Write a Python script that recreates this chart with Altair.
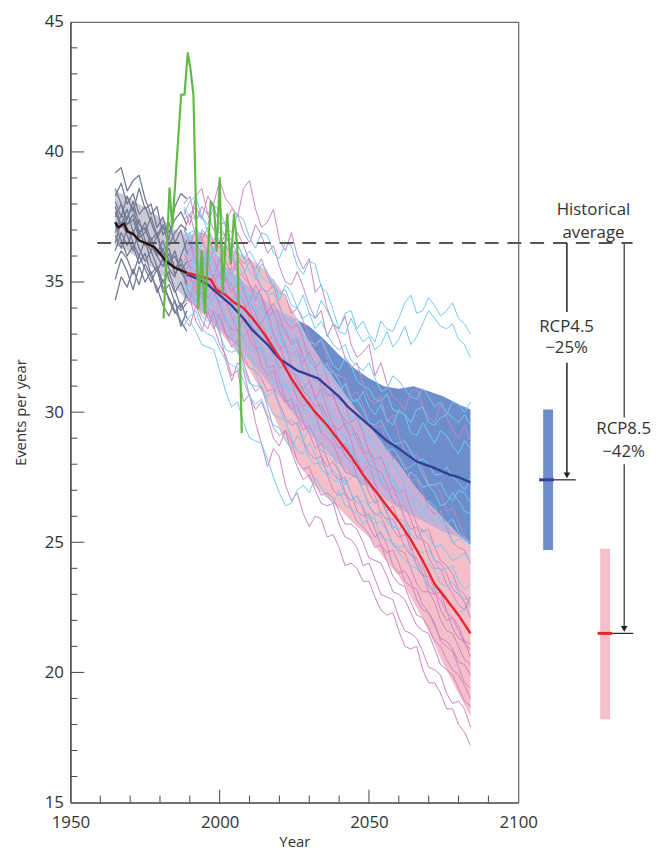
import altair as alt
import pandas as pd

# ---------------- year grids ----------------
hist_years = list(range(1965, 1990, 2))          # grey historical runs
proj_years = list(range(1988, 2085, 2))          # projection runs

# ---------------- historical (grey) ensemble ----------------
grey_01 = [39.2, 39.4, 38.5, 38.9, 39.1, 38.2, 37.6, 37.9, 36.8, 37.3, 36.5, 37.0, 36.1]
grey_02 = [38.1, 37.5, 38.3, 37.7, 38.6, 37.8, 38.0, 37.1, 37.5, 36.6, 37.9, 38.4, 38.2]
grey_03 = [37.5, 38.0, 37.2, 37.6, 36.8, 37.3, 36.6, 36.9, 36.1, 35.7, 36.2, 35.4, 35.8]
grey_04 = [36.8, 36.3, 37.1, 36.5, 36.0, 36.6, 35.8, 35.4, 35.9, 35.1, 34.6, 35.0, 34.4]
grey_05 = [35.1, 35.9, 35.4, 34.7, 35.6, 35.0, 35.4, 34.6, 35.1, 34.3, 33.8, 34.2, 33.6]
grey_06 = [34.3, 35.2, 34.8, 35.5, 34.9, 35.7, 35.2, 34.8, 34.1, 33.7, 34.3, 33.3, 33.9]
grey_07 = [37.9, 37.2, 37.8, 36.9, 37.4, 36.6, 36.2, 36.8, 35.9, 36.3, 35.5, 35.9, 35.2]
grey_08 = [38.6, 38.0, 37.4, 38.1, 37.2, 37.0, 36.5, 36.1, 36.6, 35.8, 36.0, 35.4, 35.0]
grey_09 = [36.2, 36.9, 36.4, 37.0, 36.3, 35.8, 36.2, 35.6, 35.0, 35.4, 34.7, 34.0, 34.5]
grey_10 = [37.2, 36.6, 36.0, 36.4, 35.7, 36.1, 35.3, 35.6, 34.8, 34.4, 33.9, 33.5, 33.1]
grey_11 = [38.3, 38.8, 38.0, 38.4, 37.6, 37.9, 37.3, 36.7, 37.1, 36.9, 37.4, 37.7, 37.2]
grey_12 = [36.5, 37.3, 36.8, 36.2, 37.0, 36.4, 36.7, 36.0, 35.6, 36.1, 35.3, 35.7, 34.9]
grey_13 = [37.7, 37.1, 37.5, 37.9, 36.9, 37.1, 36.4, 36.0, 36.3, 35.5, 35.2, 36.0, 36.6]
grey_14 = [35.7, 36.2, 35.9, 35.3, 36.0, 35.5, 35.0, 35.5, 34.6, 34.9, 34.2, 33.9, 34.2]
grey_15 = [36.9, 37.6, 37.2, 37.4, 36.7, 36.9, 37.5, 36.8, 37.2, 36.4, 36.9, 37.2, 37.0]

# ---------------- RCP8.5 (pink) ensemble ----------------
pink_01 = [37.8, 37.2, 38.3, 38.6, 37.6, 38.0, 38.9, 38.2, 37.9, 37.5, 38.6, 38.9, 37.8, 37.1, 37.3, 37.8, 36.6, 36.2, 36.9, 36.0, 35.5, 35.9, 34.6, 34.9, 34.0, 33.4, 33.2, 33.7, 32.6, 32.1, 32.3, 32.6, 31.4, 31.9, 31.1, 30.6, 30.4, 30.1, 30.8, 30.9, 30.2, 29.8, 29.6, 30.3, 29.8, 29.3, 29.0, 29.5, 28.9]
pink_02 = [36.9, 37.6, 37.9, 37.4, 38.3, 37.9, 37.2, 37.3, 37.8, 37.6, 36.9, 36.5, 37.2, 36.8, 36.1, 36.4, 35.6, 35.0, 34.9, 35.4, 34.8, 34.1, 33.6, 33.9, 32.9, 33.4, 32.8, 32.1, 31.7, 31.9, 31.1, 30.5, 30.3, 30.6, 29.6, 29.9, 29.1, 28.5, 28.2, 28.4, 27.8, 27.2, 27.2, 26.9, 26.2, 26.3, 25.8, 25.2, 25.0]
pink_03 = [34.2, 34.4, 33.5, 33.1, 33.9, 33.3, 32.6, 32.2, 31.4, 31.6, 30.4, 30.7, 29.6, 28.8, 27.9, 28.6, 28.3, 27.2, 26.6, 26.9, 26.1, 25.6, 26.0, 25.9, 25.2, 25.3, 24.8, 24.1, 24.2, 24.0, 23.5, 23.5, 22.9, 22.4, 22.2, 22.3, 21.6, 21.0, 20.9, 21.0, 20.1, 19.6, 19.6, 19.2, 18.6, 18.6, 18.0, 17.7, 17.2]
pink_04 = [35.1, 34.5, 34.3, 34.6, 33.6, 33.2, 33.8, 33.0, 32.5, 32.8, 31.9, 31.2, 30.8, 31.0, 30.2, 29.4, 29.1, 29.3, 28.5, 27.9, 27.4, 27.6, 27.0, 26.5, 26.4, 26.5, 25.7, 25.2, 25.1, 24.8, 24.1, 24.2, 23.6, 23.0, 22.9, 22.8, 22.1, 21.6, 21.5, 21.3, 20.8, 20.2, 20.1, 19.9, 19.2, 18.8, 18.9, 18.6, 17.9]
pink_05 = [36.4, 36.6, 35.7, 35.4, 36.3, 35.9, 35.2, 35.0, 35.6, 35.4, 34.5, 34.2, 34.9, 34.4, 33.6, 33.9, 33.1, 32.5, 32.2, 32.4, 31.6, 31.3, 30.5, 30.9, 30.1, 29.5, 29.3, 29.6, 28.9, 28.1, 27.7, 28.0, 27.3, 26.6, 26.2, 26.4, 25.8, 25.4, 24.7, 24.8, 24.1, 23.4, 23.0, 23.1, 22.4, 21.7, 21.3, 21.2, 20.6]
pink_06 = [35.8, 36.3, 36.6, 36.0, 35.4, 35.2, 35.9, 35.1, 34.6, 35.0, 34.8, 34.0, 33.5, 33.4, 33.9, 33.0, 32.4, 32.6, 31.8, 31.1, 30.9, 31.2, 30.6, 30.1, 29.4, 29.5, 28.9, 28.3, 28.1, 28.2, 27.6, 26.9, 26.5, 26.7, 26.1, 25.5, 25.2, 25.3, 24.9, 24.1, 23.7, 23.7, 23.2, 22.4, 22.0, 22.1, 21.6, 21.1, 20.9]
pink_07 = [34.6, 34.3, 35.2, 34.9, 34.4, 34.7, 34.1, 33.5, 33.2, 33.1, 33.6, 32.8, 32.4, 32.5, 31.7, 31.8, 31.2, 30.5, 30.1, 30.3, 29.6, 29.2, 28.6, 28.8, 28.2, 27.6, 27.4, 27.5, 26.9, 26.2, 26.0, 26.1, 25.5, 24.9, 24.6, 24.7, 24.2, 23.5, 23.3, 23.2, 22.6, 22.3, 21.9, 21.2, 21.0, 20.8, 20.2, 19.6, 19.4]
pink_08 = [37.4, 37.6, 36.8, 36.6, 37.1, 36.5, 36.3, 36.9, 36.6, 36.0, 35.7, 35.9, 35.2, 34.8, 34.6, 34.9, 34.1, 33.5, 33.2, 33.4, 32.8, 32.0, 31.7, 32.0, 31.3, 30.7, 30.5, 30.3, 29.6, 29.8, 29.2, 28.5, 28.2, 28.3, 27.7, 27.1, 26.9, 27.0, 26.3, 25.7, 25.4, 25.5, 24.8, 24.3, 24.1, 23.8, 23.2, 23.0, 22.6]
pink_09 = [33.6, 33.3, 34.1, 33.5, 33.2, 33.9, 33.6, 33.0, 32.8, 32.6, 32.1, 31.7, 31.6, 31.3, 30.8, 30.9, 30.3, 29.8, 29.5, 29.6, 28.9, 28.4, 28.2, 28.3, 27.6, 27.0, 26.8, 26.9, 26.3, 25.8, 25.6, 25.3, 24.8, 24.9, 24.3, 23.7, 23.4, 23.3, 22.7, 22.2, 22.1, 21.7, 21.2, 21.0, 20.5, 20.1, 19.9, 19.5, 19.0]
pink_10 = [36.1, 35.6, 35.4, 36.0, 35.8, 35.1, 34.7, 35.2, 34.9, 34.3, 33.9, 34.2, 33.8, 33.1, 32.7, 33.0, 32.6, 31.9, 31.5, 31.4, 30.8, 30.6, 30.2, 30.3, 29.8, 29.0, 28.6, 28.8, 28.3, 27.5, 27.2, 27.3, 26.8, 26.1, 25.9, 25.9, 25.4, 24.8, 24.5, 24.4, 23.8, 23.1, 23.0, 22.8, 22.3, 22.1, 21.8, 21.2, 21.1]
pink_11 = [35.3, 35.8, 35.9, 35.2, 34.9, 35.0, 35.4, 34.6, 34.2, 34.6, 34.3, 33.5, 33.1, 33.4, 32.9, 32.2, 31.7, 31.8, 31.2, 30.5, 30.2, 30.4, 29.9, 29.2, 29.0, 28.8, 28.2, 27.7, 27.6, 27.5, 27.0, 26.4, 26.1, 26.0, 25.5, 24.9, 24.7, 24.6, 24.0, 23.4, 23.1, 23.1, 22.7, 22.0, 21.6, 21.5, 21.0, 20.5, 20.3]
pink_12 = [37.0, 36.5, 36.2, 36.9, 36.7, 36.1, 35.8, 36.4, 36.0, 35.4, 35.2, 34.9, 34.3, 34.8, 34.5, 33.8, 33.4, 33.2, 32.6, 32.7, 32.2, 31.5, 31.2, 31.3, 30.7, 30.6, 30.1, 29.4, 29.1, 29.2, 28.6, 28.0, 27.8, 27.7, 27.2, 26.6, 26.4, 26.4, 25.9, 25.2, 25.1, 24.9, 24.3, 24.2, 23.8, 23.2, 23.0, 22.7, 22.1]
pink_13 = [38.0, 38.3, 37.3, 37.9, 37.6, 37.0, 36.9, 36.8, 36.2, 36.9, 36.4, 35.8, 35.5, 35.9, 35.2, 34.8, 34.6, 34.5, 33.8, 34.0, 33.5, 32.9, 32.5, 32.8, 32.1, 31.5, 31.4, 31.3, 30.6, 30.8, 30.3, 29.6, 29.4, 29.5, 28.8, 28.2, 28.3, 28.0, 27.4, 27.4, 26.9, 26.3, 26.1, 26.2, 25.6, 25.0, 24.8, 24.7, 24.2]
pink_14 = [34.9, 35.3, 34.6, 34.4, 35.1, 34.6, 34.2, 34.3, 33.7, 33.1, 32.9, 33.2, 32.6, 31.8, 31.4, 31.6, 30.8, 30.4, 30.5, 29.8, 29.3, 29.5, 29.0, 28.3, 27.9, 28.1, 27.7, 26.9, 26.6, 26.8, 26.3, 25.6, 25.2, 25.4, 24.9, 24.1, 23.8, 23.9, 23.5, 22.8, 22.4, 22.3, 21.8, 21.3, 21.2, 20.9, 20.4, 20.3, 19.9]
pink_15 = [36.7, 36.4, 37.1, 36.7, 36.0, 36.2, 36.6, 35.8, 35.3, 35.9, 35.5, 34.9, 34.6, 34.5, 33.8, 34.2, 33.7, 33.0, 32.7, 32.8, 31.9, 32.3, 31.8, 31.0, 30.6, 30.7, 30.0, 29.7, 29.5, 29.0, 28.4, 28.5, 28.0, 27.3, 27.0, 27.1, 26.6, 25.9, 25.5, 25.6, 25.1, 24.4, 24.0, 24.0, 23.4, 23.0, 22.6, 22.4, 22.9]
pink_16 = [35.6, 35.1, 34.9, 34.6, 34.0, 33.8, 33.1, 32.0, 31.2, 31.9, 31.6, 30.6, 30.1, 30.4, 29.8, 29.0, 28.7, 29.3, 28.9, 28.1, 27.8, 27.9, 27.3, 26.8, 26.9, 26.7, 26.2, 25.7, 25.7, 25.5, 25.0, 24.4, 24.3, 24.2, 23.7, 23.1, 23.0, 22.8, 22.3, 21.8, 21.6, 21.5, 20.9, 20.3, 20.1, 19.9, 19.4, 18.9, 18.7]

# ---------------- RCP4.5 (light blue) ensemble ----------------
sky_01 = [37.6, 38.1, 38.3, 37.5, 37.2, 37.9, 37.8, 37.1, 36.9, 37.6, 37.4, 36.7, 36.3, 36.9, 36.8, 36.1, 35.9, 36.5, 36.4, 35.6, 35.3, 35.8, 35.7, 34.8, 34.6, 33.9, 33.2, 33.8, 33.9, 33.2, 33.5, 33.0, 32.7, 33.5, 33.2, 33.1, 33.6, 34.2, 34.5, 33.8, 33.9, 34.4, 34.1, 33.7, 33.9, 34.2, 33.6, 33.4, 33.0]
sky_02 = [36.4, 36.9, 37.0, 36.4, 36.2, 36.3, 36.7, 36.1, 35.8, 36.4, 36.0, 35.4, 35.1, 35.7, 35.4, 34.8, 34.6, 34.7, 34.1, 34.0, 34.5, 33.8, 33.6, 34.3, 33.9, 33.4, 33.1, 33.0, 33.6, 33.1, 32.7, 32.9, 32.4, 32.6, 33.1, 32.5, 32.8, 33.3, 32.6, 32.9, 33.4, 33.9, 33.6, 33.3, 33.2, 33.4, 32.8, 32.6, 32.1]
sky_03 = [33.8, 33.5, 33.1, 32.6, 32.5, 32.4, 31.6, 30.8, 30.2, 30.4, 29.6, 29.0, 28.9, 28.8, 28.2, 27.5, 26.9, 26.4, 26.5, 27.0, 27.2, 26.9, 27.5, 27.1, 26.8, 26.5, 27.0, 26.4, 26.3, 26.1, 25.7, 26.0, 25.9, 25.2, 25.1, 25.0, 24.6, 24.3, 24.1, 24.0, 23.7, 23.3, 23.2, 23.2, 22.9, 22.5, 22.3, 22.4, 22.6]
sky_04 = [35.0, 34.4, 34.2, 34.8, 34.6, 33.9, 33.5, 33.6, 33.0, 32.3, 32.1, 32.2, 31.5, 30.9, 30.6, 30.8, 30.2, 29.6, 29.7, 29.5, 28.9, 29.4, 29.1, 28.5, 28.4, 28.3, 27.8, 27.2, 27.5, 27.6, 27.0, 26.5, 26.6, 26.8, 26.2, 25.6, 25.5, 25.7, 25.2, 24.7, 24.6, 24.7, 24.3, 23.9, 24.0, 24.1, 23.5, 23.2, 23.4]
sky_05 = [36.0, 36.3, 35.6, 35.5, 36.1, 35.6, 35.3, 35.4, 34.8, 35.3, 34.9, 34.2, 33.9, 34.0, 33.5, 32.9, 32.6, 33.2, 32.9, 32.3, 32.0, 32.2, 31.6, 31.4, 31.9, 31.2, 30.8, 31.1, 30.5, 30.4, 30.8, 30.2, 29.9, 30.3, 29.7, 29.5, 30.1, 29.9, 29.2, 29.1, 29.6, 29.2, 28.8, 29.3, 29.1, 28.7, 28.4, 28.9, 28.6]
sky_06 = [34.4, 34.9, 35.0, 34.3, 34.0, 34.5, 34.3, 33.6, 33.4, 33.5, 32.8, 32.4, 32.3, 32.5, 31.8, 31.2, 31.0, 31.1, 30.6, 30.0, 30.1, 30.0, 29.4, 29.3, 29.8, 29.1, 28.9, 29.0, 28.5, 28.0, 28.1, 28.0, 27.5, 27.3, 27.9, 27.4, 27.0, 27.1, 26.8, 26.2, 26.1, 26.6, 26.4, 25.8, 25.7, 25.9, 25.4, 25.1, 25.0]
sky_07 = [37.1, 36.6, 36.4, 37.0, 36.8, 36.2, 35.9, 36.5, 36.2, 35.6, 35.3, 35.8, 35.4, 34.8, 34.5, 34.6, 34.0, 33.6, 33.5, 33.6, 33.0, 32.7, 32.6, 32.8, 32.3, 31.8, 31.6, 32.1, 31.8, 31.2, 31.0, 30.9, 30.5, 30.4, 30.7, 30.1, 30.0, 29.9, 29.6, 30.1, 30.2, 29.6, 29.5, 29.8, 29.9, 30.4, 30.3, 30.0, 30.4]
sky_08 = [35.5, 35.2, 36.0, 35.4, 35.1, 35.5, 35.0, 34.5, 34.3, 34.4, 33.8, 33.9, 33.4, 32.8, 32.5, 32.7, 32.1, 31.6, 31.4, 31.6, 31.2, 30.6, 30.5, 30.7, 30.3, 29.8, 29.6, 29.7, 29.3, 28.8, 28.7, 29.0, 28.6, 28.2, 28.0, 28.1, 27.6, 27.3, 27.7, 27.5, 27.1, 27.2, 26.9, 26.4, 26.5, 26.9, 26.6, 26.2, 26.1]
sky_09 = [33.3, 33.7, 33.9, 33.2, 33.0, 32.9, 32.4, 32.0, 31.8, 31.7, 31.2, 30.6, 30.3, 30.5, 29.9, 29.5, 29.4, 28.9, 28.6, 29.1, 28.8, 28.2, 28.0, 28.1, 27.7, 27.4, 27.3, 27.4, 26.9, 26.5, 26.6, 26.4, 26.0, 26.2, 25.8, 25.5, 25.9, 25.8, 25.3, 25.1, 25.5, 25.2, 24.8, 24.9, 24.6, 24.3, 24.4, 24.6, 24.2]
sky_10 = [36.8, 36.9, 36.2, 35.9, 35.6, 36.3, 36.1, 35.4, 35.1, 35.3, 34.5, 34.4, 34.7, 34.0, 33.6, 33.8, 33.3, 32.6, 32.4, 32.9, 32.5, 31.9, 31.8, 31.9, 31.4, 31.6, 31.2, 30.6, 30.4, 30.5, 30.1, 29.6, 29.5, 29.7, 29.2, 28.8, 28.8, 28.9, 28.5, 28.1, 28.2, 28.0, 27.6, 27.6, 27.9, 27.5, 27.3, 27.0, 27.5]
sky_11 = [35.8, 35.5, 35.1, 35.7, 35.4, 34.8, 34.6, 34.5, 34.0, 33.4, 33.2, 33.5, 32.9, 32.3, 32.0, 32.2, 31.5, 30.9, 30.9, 31.1, 30.6, 30.1, 30.0, 30.2, 29.5, 29.0, 29.2, 29.1, 28.6, 28.1, 28.3, 28.4, 27.8, 27.4, 27.2, 27.4, 26.9, 26.5, 26.4, 26.7, 26.3, 25.9, 25.8, 26.0, 25.5, 25.0, 25.1, 25.2, 24.8]
sky_12 = [34.7, 34.9, 34.3, 33.7, 33.5, 33.6, 33.0, 32.4, 32.3, 32.4, 31.7, 31.1, 31.0, 31.0, 30.4, 29.9, 29.8, 29.7, 29.0, 28.5, 28.4, 28.8, 28.4, 27.8, 27.6, 27.8, 27.4, 26.8, 26.6, 26.8, 26.4, 25.9, 25.7, 25.8, 25.4, 24.9, 24.8, 24.9, 24.6, 24.1, 24.0, 24.2, 23.9, 23.4, 23.3, 23.5, 23.1, 22.8, 22.9]
sky_13 = [36.2, 36.7, 36.9, 36.2, 35.9, 36.1, 35.6, 35.2, 35.5, 34.7, 34.2, 34.5, 34.0, 33.4, 33.1, 33.4, 32.9, 32.3, 32.1, 32.2, 31.5, 31.8, 31.4, 30.9, 30.7, 30.8, 30.4, 29.9, 29.8, 29.9, 29.4, 29.0, 29.1, 28.9, 28.5, 28.6, 28.3, 27.8, 27.9, 28.1, 27.6, 27.2, 27.2, 27.3, 26.8, 26.6, 27.0, 26.9, 26.5]
sky_14 = [37.9, 37.5, 37.4, 37.6, 36.9, 36.6, 37.1, 36.8, 36.4, 36.5, 35.9, 36.2, 35.8, 35.2, 35.0, 35.1, 34.3, 34.9, 34.6, 34.0, 33.6, 33.8, 33.2, 33.5, 33.0, 32.6, 32.4, 32.6, 32.0, 31.8, 31.6, 31.9, 31.3, 30.8, 30.9, 31.4, 31.2, 30.9, 30.6, 30.5, 30.9, 30.6, 30.2, 30.4, 30.0, 29.8, 29.6, 29.9, 29.5]

# ---------------- ensemble means ----------------
black_years = [1965, 1966, 1968, 1969, 1971, 1973, 1975, 1978, 1980, 1982, 1985, 1988, 1989]
black_vals = [37.3, 37.1, 37.25, 36.95, 36.85, 36.6, 36.5, 36.35, 36.1, 35.8, 35.55, 35.4, 35.35]
red_years = [1989, 1991, 1994, 1997, 1999, 2002, 2005, 2008, 2011, 2015, 2020, 2024, 2028, 2032, 2036, 2040, 2044, 2048, 2052, 2056, 2060, 2064, 2068, 2072, 2076, 2080, 2084]
red_vals = [35.35, 35.3, 35.2, 35.1, 34.7, 34.5, 34.2, 34.0, 33.6, 33.0, 32.1, 31.3, 30.6, 30.0, 29.5, 28.9, 28.3, 27.6, 27.0, 26.4, 25.8, 25.1, 24.3, 23.4, 22.8, 22.2, 21.5]
blue_years = [1989, 1993, 1996, 2000, 2004, 2008, 2011, 2016, 2020, 2026, 2033, 2040, 2043, 2047, 2050, 2056, 2060, 2066, 2071, 2077, 2080, 2084]
blue_vals = [35.3, 35.1, 34.9, 34.5, 34.1, 33.6, 33.15, 32.6, 32.05, 31.6, 31.3, 30.6, 30.2, 29.8, 29.5, 28.9, 28.6, 28.1, 27.9, 27.6, 27.5, 27.3]

# ---------------- observations (green) ----------------
obs_years = [1981.2, 1983.2, 1984.1, 1987.1, 1988.2, 1989.3, 1990.2, 1991.2, 1992.8, 1994.0, 1995.0, 1997.0, 1998.1, 1999.0, 2000.0, 2001.0, 2002.5, 2003.7, 2004.8, 2005.9, 2007.4]
obs_vals = [33.6, 38.6, 37.1, 42.2, 42.2, 43.8, 43.2, 42.2, 34.0, 36.2, 33.8, 38.1, 37.9, 36.2, 39.0, 34.6, 37.6, 35.7, 37.6, 36.4, 29.2]

# ---------------- uncertainty bands ----------------
hist_band_years = [1965, 1969, 1973, 1977, 1981, 1985, 1989]
hist_band_lo = [36.4, 36.2, 35.9, 35.6, 35.2, 34.8, 34.3]
hist_band_hi = [38.5, 38.3, 38.0, 37.7, 37.4, 37.0, 36.8]
band_years = [1989, 1995, 2000, 2005, 2010, 2015, 2020, 2025, 2030, 2035, 2040, 2045, 2050, 2055, 2060, 2065, 2070, 2075, 2080, 2084]
pink_lo = [34.3, 33.7, 33.1, 32.4, 31.6, 30.6, 29.4, 28.3, 27.4, 26.8, 26.3, 25.7, 25.2, 24.4, 23.7, 22.7, 21.6, 20.3, 19.2, 18.3]
pink_hi = [36.8, 36.9, 36.5, 36.2, 35.9, 35.5, 34.8, 33.8, 32.7, 31.8, 31.0, 30.2, 29.5, 28.7, 28.0, 27.2, 26.5, 25.9, 25.3, 24.8]
blue_lo = [34.3, 33.8, 33.2, 32.6, 32.0, 31.3, 30.6, 29.9, 29.2, 28.6, 28.0, 27.5, 27.1, 26.7, 26.3, 26.0, 25.7, 25.4, 25.2, 24.9]
blue_hi = [36.5, 36.2, 35.8, 35.3, 34.8, 34.3, 33.9, 33.6, 33.3, 32.8, 32.2, 31.7, 31.3, 31.0, 30.9, 31.0, 30.8, 30.6, 30.3, 30.1]

# ---------------- summary values ----------------
hist_avg = 36.5
rcp45 = {"mean": 27.4, "lo": 24.7, "hi": 30.1}
rcp85 = {"mean": 21.5, "lo": 18.2, "hi": 24.75}

y_major = [20, 25, 30, 35, 40]
y_minor = [v for v in range(16, 45) if v % 5 != 0]
x_major = [2000, 2050]
x_minor = [1960, 1970, 1980, 1990, 2010, 2020, 2030, 2040, 2060, 2070, 2080, 2090]

PLOT_W, PLOT_H = 452, 788

# ---------------- build tables ----------------
def runs_df(runs, years, prefix):
    rows = []
    for i, vals in enumerate(runs):
        for yr, v in zip(years, vals):
            rows.append({"year": yr, "value": v, "run": f"{prefix}{i}"})
    return pd.DataFrame(rows)

grey_df = runs_df([grey_01, grey_02, grey_03, grey_04, grey_05, grey_06, grey_07, grey_08,
                   grey_09, grey_10, grey_11, grey_12, grey_13, grey_14, grey_15], hist_years, "g")
pink_df = runs_df([pink_01, pink_02, pink_03, pink_04, pink_05, pink_06, pink_07, pink_08,
                   pink_09, pink_10, pink_11, pink_12, pink_13, pink_14, pink_15, pink_16], proj_years, "p")
sky_df = runs_df([sky_01, sky_02, sky_03, sky_04, sky_05, sky_06, sky_07, sky_08,
                  sky_09, sky_10, sky_11, sky_12, sky_13, sky_14], proj_years, "s")

hist_band = pd.DataFrame({"year": hist_band_years, "lo": hist_band_lo, "hi": hist_band_hi})
pink_band = pd.DataFrame({"year": band_years, "lo": pink_lo, "hi": pink_hi})
blue_band = pd.DataFrame({"year": band_years, "lo": blue_lo, "hi": blue_hi})
ov_lo = [max(a, b) for a, b in zip(pink_lo, blue_lo)]
ov_hi = [max(min(a, b), l) for a, b, l in zip(pink_hi, blue_hi, ov_lo)]
over_band = pd.DataFrame({"year": band_years, "lo": ov_lo, "hi": ov_hi})

black_df = pd.DataFrame({"year": black_years, "value": black_vals})
red_df = pd.DataFrame({"year": red_years, "value": red_vals})
blue_df = pd.DataFrame({"year": blue_years, "value": blue_vals})
obs_df = pd.DataFrame({"year": obs_years, "value": obs_vals})

# ---------------- scales / axes ----------------
FONT = "Open Sans"
xs = alt.Scale(domain=[1950, 2100], nice=False, zero=False)
ys = alt.Scale(domain=[15, 45], nice=False, zero=False)
XAX = alt.Axis(values=[1950, 2000, 2050, 2100], format="d", ticks=False, grid=False, labelFlush=False,
               title="Year", labelPadding=12, titlePadding=4)
YAX = alt.Axis(values=[15, 20, 25, 30, 35, 40, 45], ticks=False, grid=False, labelFlush=False,
               title="Events per year", labelPadding=7, titlePadding=16)


def X(field="year"):
    return alt.X(f"{field}:Q", scale=xs, axis=XAX)


def Y(field="value"):
    return alt.Y(f"{field}:Q", scale=ys, axis=YAX)


def band(df, color):
    return alt.Chart(df).mark_area(color=color, opacity=1).encode(x=X(), y=Y("lo"), y2="hi:Q")


def lines(df, color, width):
    return alt.Chart(df).mark_line(color=color, strokeWidth=width, strokeJoin="round").encode(
        x=X(), y=Y(), detail="run:N")


def single(df, color, width):
    return alt.Chart(df).mark_line(color=color, strokeWidth=width, strokeJoin="round").encode(x=X(), y=Y())


layers = [
    band(hist_band, "#cdcad8"),
    band(blue_band, "#6d8ecb"),
    band(pink_band, "#f5bfca"),
    band(over_band, "#c7b0d8"),
    lines(pink_df, "#c886c2", 1.0),
    lines(sky_df, "#72c9ee", 1.0),
    lines(grey_df, "#737b94", 1.3),
]

# historical average dashed line
dash_df = pd.DataFrame({"x0": [1959.0], "x1": [2138.3], "v": [hist_avg]})
layers.append(alt.Chart(dash_df).mark_rule(color="#555555", strokeWidth=1.8, strokeDash=[14, 9]).encode(
    x=X("x0"), x2="x1:Q", y=Y("v")))

layers += [
    single(blue_df, "#2f4096", 2.4),
    single(red_df, "#e8262b", 2.4),
    single(black_df, "#2b1418", 2.4),
    single(obs_df, "#62b946", 2.2),
]

# inward ticks
layers.append(alt.Chart(pd.DataFrame({"v": y_major})).mark_rule(color="#444", strokeWidth=1).encode(
    y=Y("v"), x=alt.value(0), x2=alt.value(14)))
layers.append(alt.Chart(pd.DataFrame({"v": y_minor})).mark_rule(color="#444", strokeWidth=1).encode(
    y=Y("v"), x=alt.value(0), x2=alt.value(7)))
layers.append(alt.Chart(pd.DataFrame({"t": x_major})).mark_rule(color="#444", strokeWidth=1).encode(
    x=X("t"), y=alt.value(PLOT_H), y2=alt.value(PLOT_H - 13)))
layers.append(alt.Chart(pd.DataFrame({"t": x_minor})).mark_rule(color="#444", strokeWidth=1).encode(
    x=X("t"), y=alt.value(PLOT_H), y2=alt.value(PLOT_H - 7)))

# ---------------- right-hand summary annotations ----------------
bars_df = pd.DataFrame({"x": [2110.0, 2129.1], "lo": [rcp45["lo"], rcp85["lo"]],
                        "hi": [rcp45["hi"], rcp85["hi"]], "c": ["#6d8ecb", "#f5bfca"]})
layers.append(alt.Chart(bars_df).mark_rule(strokeWidth=10).encode(
    x=X("x"), y=Y("lo"), y2="hi:Q", color=alt.Color("c:N", scale=None)))

means_df = pd.DataFrame({"x0": [2107.0, 2126.6], "x1": [2112.0, 2131.5],
                         "v": [rcp45["mean"], rcp85["mean"]], "c": ["#2f4096", "#e8262b"]})
layers.append(alt.Chart(means_df).mark_rule(strokeWidth=3).encode(
    x=X("x0"), x2="x1:Q", y=Y("v"), color=alt.Color("c:N", scale=None)))

hlines_df = pd.DataFrame({"x0": [2112.0, 2131.5], "x1": [2119.3, 2138.5],
                          "v": [rcp45["mean"], rcp85["mean"]]})
layers.append(alt.Chart(hlines_df).mark_rule(color="#222", strokeWidth=1.2).encode(
    x=X("x0"), x2="x1:Q", y=Y("v")))

vlines_df = pd.DataFrame({
    "x": [2116.3, 2116.3, 2135.5, 2135.5],
    "a": [hist_avg, 31.9, hist_avg, 28.0],
    "b": [33.85, rcp45["mean"] + 0.2, 29.8, rcp85["mean"] + 0.2],
    "c": ["#222222", "#222222", "#555555", "#555555"],
})
layers.append(alt.Chart(vlines_df).mark_rule(strokeWidth=1.5).encode(
    x=X("x"), y=Y("a"), y2="b:Q", color=alt.Color("c:N", scale=None)))

arrows_df = pd.DataFrame({"x": [2116.3, 2135.5], "v": [rcp45["mean"] + 0.17, rcp85["mean"] + 0.17]})
layers.append(alt.Chart(arrows_df).mark_point(shape="triangle-down", filled=True, size=45,
                                              color="#222", opacity=1).encode(x=X("x"), y=Y("v")))

text_df = pd.DataFrame({
    "x": [2125.2, 2125.2, 2116.2, 2116.2, 2135.3, 2135.3],
    "v": [37.75, 36.9, 33.26, 32.45, 29.35, 28.48],
    "t": ["Historical", "average", "RCP4.5", "\u221225%", "RCP8.5", "\u221242%"],
})
layers.append(alt.Chart(text_df).mark_text(font=FONT, fontSize=17, color="#333", baseline="middle",
                                           align="center").encode(x=X("x"), y=Y("v"), text="t:N"))

chart = alt.layer(*layers).properties(
    width=PLOT_W, height=PLOT_H, padding={"left": 5, "top": 1, "right": 0, "bottom": 0}
).configure_view(stroke="#444", strokeWidth=1).configure_axis(
    labelFont=FONT, titleFont=FONT, labelFontSize=17, titleFontSize=15, labelColor="#333",
    titleColor="#333", titleFontWeight="normal", domainColor="#444", domainWidth=1.2
)

chart.save("out.html", embed_options={"renderer": "svg", "actions": False})
